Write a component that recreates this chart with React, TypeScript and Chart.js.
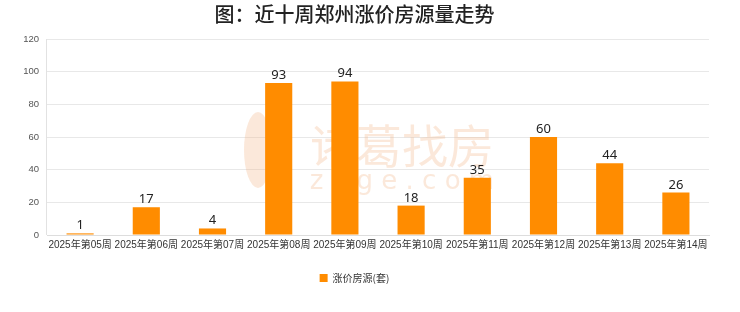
import React, { useEffect, useRef } from "react";
import { Chart, registerables } from "chart.js";

Chart.register(...registerables);

const categories = [
  "2025年第05周", "2025年第06周", "2025年第07周", "2025年第08周", "2025年第09周",
  "2025年第10周", "2025年第11周", "2025年第12周", "2025年第13周", "2025年第14周",
];
const values = [1, 17, 4, 93, 94, 18, 35, 60, 44, 26];
const seriesName = "涨价房源(套)";
const titleText = "图：近十周郑州涨价房源量走势";

const labelPlugin = {
  id: "barLabels",
  afterDatasetsDraw(chart: any) {
    const ctx = chart.ctx;
    const meta = chart.getDatasetMeta(0);
    ctx.save();
    ctx.font = "13px 'Noto Sans', sans-serif";
    ctx.fillStyle = "#222";
    ctx.textAlign = "center";
    ctx.textBaseline = "alphabetic";
    meta.data.forEach((bar: any, i: number) => {
      ctx.fillText(String(values[i]), bar.x, bar.y - 4);
    });
    ctx.restore();
  },
};

const watermarkPlugin = {
  id: "watermark",
  beforeDatasetsDraw(chart: any) {
    const ctx = chart.ctx;
    ctx.save();
    ctx.globalAlpha = 0.3;
    ctx.fillStyle = "#f3b483";
    ctx.textAlign = "center";
    ctx.textBaseline = "middle";
    ctx.font = "46px 'Noto Sans CJK SC', sans-serif";
    ctx.fillText("诸葛找房", 402, 146);
    ctx.font = "26px 'DejaVu Sans', sans-serif";
    ctx.fillText("z u g e . c o m", 402, 182);
    ctx.beginPath();
    ctx.ellipse(258, 150, 14, 38, 0, 0, Math.PI * 2);
    ctx.fill();
    ctx.restore();
  },
};

export default function App() {
  const ref = useRef<HTMLCanvasElement>(null);
  useEffect(() => {
    document.body.style.margin = "0";
    const chart = new Chart(ref.current!, {
      type: "bar",
      data: {
        labels: categories,
        datasets: [
          {
            label: seriesName,
            data: values,
            backgroundColor: "#ff8c00",
            barPercentage: 0.82,
            categoryPercentage: 0.5,
          },
        ],
      },
      options: {
        animation: false,
        responsive: false,
        layout: { padding: { left: 0, right: 31, top: 0, bottom: 19 } },
        plugins: {
          title: {
            display: true,
            text: titleText,
            color: "#222",
            font: { size: 20, weight: "500", family: "'Noto Sans CJK SC', sans-serif" },
            padding: { top: 2, bottom: 13 },
          },
          legend: {
            position: "bottom",
            labels: {
              boxWidth: 8,
              boxHeight: 8,
              color: "#333",
              font: { size: 10, family: "'Noto Sans CJK SC', sans-serif" },
              padding: 18,
            },
          },
          tooltip: { enabled: false },
        },
        scales: {
          x: {
            grid: {
              display: true,
              drawTicks: false,
              color: (c: any) => (c.index === 0 || c.index === categories.length ? "#e2e2e2" : "rgba(0,0,0,0)"),
            },
            border: { color: "#dddddd" },
            ticks: {
              color: "#333",
              font: { size: 10, family: "'Liberation Sans', 'Noto Sans CJK SC', sans-serif" },
              maxRotation: 0,
              autoSkip: false,
              padding: 4,
            },
          },
          y: {
            min: 0,
            max: 120,
            afterFit(scale: any) { scale.width = 47; },
            grid: { color: "#e8e8e8", drawTicks: false },
            border: { display: false },
            ticks: {
              stepSize: 20,
              color: "#555",
              font: { size: 9.5, family: "'Liberation Sans', sans-serif" },
              padding: 8,
            },
          },
        },
      },
      plugins: [watermarkPlugin, labelPlugin],
    });
    return () => chart.destroy();
  }, []);
  return <canvas ref={ref} width={740} height={312} style={{ display: "block" }} />;
}
